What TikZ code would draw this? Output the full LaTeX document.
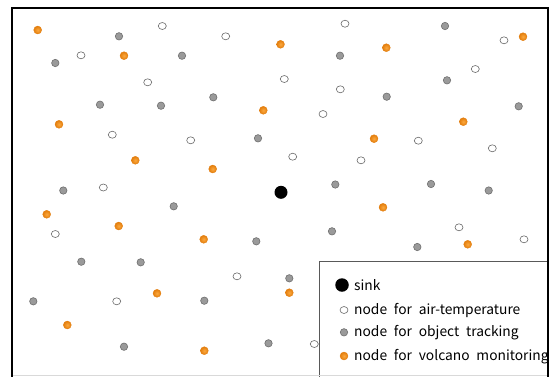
\documentclass[tikz,border=0pt]{standalone}
\usepackage{fontspec}
\newfontfamily\lgfont[WordSpace=2.2]{Noto Sans CJK KR}
\definecolor{volcl}{HTML}{FBA83E}
\definecolor{volcd}{HTML}{E37D0C}
\definecolor{trk}{HTML}{9A9A9A}
\definecolor{trkd}{HTML}{6E6E6E}
\definecolor{airb}{HTML}{6A6A6A}
\tikzset{
  odot/.style={circle,inner sep=0pt,minimum size=8pt,inner color=volcl,outer color=volcd,draw=volcd,line width=0.3pt},
  gdot/.style={circle,inner sep=0pt,minimum size=7.4pt,fill=trk,draw=trkd,line width=0.6pt},
  wdot/.style={ellipse,inner sep=0pt,minimum width=8pt,minimum height=7pt,fill=white,draw=airb,line width=0.6pt},
  sinkdot/.style={circle,inner sep=0pt,minimum size=13pt,fill=black},
  legtext/.style={anchor=west,inner sep=0pt,font=\lgfont\fontsize{13.8}{16}\selectfont}
}
\usetikzlibrary{shapes.geometric}
\begin{document}
\begin{tikzpicture}[x=1pt,y=-1pt]
\clip (0,0) rectangle (551,376);
\fill[white] (0,0) rectangle (551,376);
% orange (volcano)
\foreach \x/\y [count=\i] in {37.7/30, 124/55.7, 280.5/44.3, 386.3/47.7, 523/36.7, 263.3/110.3, 59/124.3, 463.3/121.7, 374/138.7, 135.3/160.3, 212.7/169, 46.7/214.3, 118.7/226, 383/207.3, 203.7/239.3, 467.7/244.3, 157/293.3, 289.3/292.7, 67.3/325, 204.3/350.7}
  \node[odot] (o\i) at (\x,\y) {};
% gray (tracking)
\foreach \x/\y [count=\i] in {119/36.3, 55.3/63, 182/55.7, 340/55.7, 445/26, 100/104.7, 161/105.7, 213.3/97.3, 386.7/96.7, 447/80.3, 518.7/106.3, 258/138.3, 63.3/190.5, 173.7/206.3, 335.3/184.5, 431/184, 488.7/190.5, 332/231.3, 256.3/241.3, 417.3/247, 81.3/261.7, 140.7/262.3, 289.3/278.3, 33.3/301.3, 204.3/300.7, 124/346.7, 268.5/343.3}
  \node[gdot] (g\i) at (\x,\y) {};
% white (air temperature)
\foreach \x/\y [count=\i] in {162.3/26, 225.7/36.3, 345/23.7, 81/55.3, 504/40.3, 147.7/82.3, 284.3/79, 340.3/89.3, 475.3/69, 323/114, 112.3/134.7, 190.7/140.3, 418.3/140.7, 492.3/148.3, 292.7/156.7, 361/160.3, 103.3/187.5, 55.3/234, 459/227.3, 524/239.3, 237/276.3, 116.7/301.3, 314.3/344}
  \node[wdot] (w\i) at (\x,\y) {};
% sink
\node[sinkdot] (sink) at (281,192.3) {};
% legend
\fill[white] (319,261) rectangle (551,376);
\draw[line width=0.8pt,draw=black!65] (319,377) -- (319,261) -- (548,261);
\node[sinkdot,minimum size=13.5pt] (lsink) at (342,285) {};
\node[legtext] (tsink) at (354,285.5) {sink};
\node[wdot] (lair) at (344,310) {};
\node[legtext] (tair) at (354,310.5) {node for air-temperature};
\node[gdot] (ltrk) at (344,332.3) {};
\node[legtext] (ttrk) at (354,332.8) {node for object tracking};
\node[odot] (lvol) at (344,356) {};
\node[legtext] (tvol) at (354,356.5) {node for volcano monitoring};
% frame
\draw[line width=0.8pt,black!15] (12,375.5) -- (548,375.5);
\draw[line width=2pt,line cap=rect] (12,377) -- (12,8) -- (548,8) -- (548,377);
\end{tikzpicture}
\end{document}
